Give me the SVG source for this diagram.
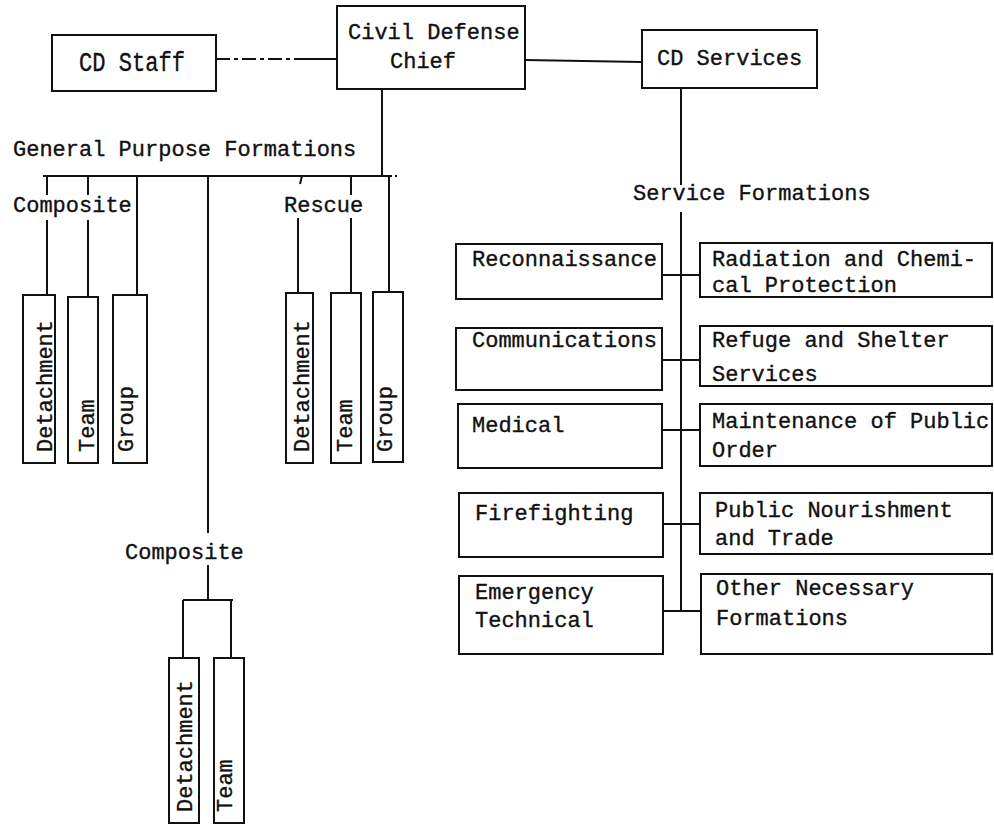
<svg xmlns="http://www.w3.org/2000/svg" width="994" height="826" viewBox="0 0 994 826">
<style>
.box{fill:none;stroke:#111;stroke-width:2}
.ln{fill:none;stroke:#111;stroke-width:2}
.t{font-family:"Liberation Mono","Courier New",monospace;font-size:22px;fill:#111;stroke:#111;stroke-width:0.35}
</style>
<rect width="994" height="826" fill="#fff"/>
<g id="connectors">
<path class="ln" d="M216,59 H300" stroke-dasharray="14,4,4,4"/>
<path class="ln" d="M300,59 H337"/>
<path class="ln" d="M525,60 L642,62"/>
<path class="ln" d="M681,88 V185"/>
<path class="ln" d="M382,89 V176"/>
<path class="ln" d="M43,176 H389"/>
<path class="ln" d="M389,176 H397" stroke-dasharray="3,3"/>
<path class="ln" d="M47,176 V195 M47,220 V295"/>
<path class="ln" d="M88,176 V195 M88,220 V297"/>
<path class="ln" d="M137,176 V295"/>
<path class="ln" d="M302,176 L300,184 M298,218 V293"/>
<path class="ln" d="M351,176 V195 M351,218 V293"/>
<path class="ln" d="M389,176 V292"/>
<path class="ln" d="M208,176 V533 M208,565 V600"/>
<path class="ln" d="M183,600 H233 M183,600 V658 M231,600 V658"/>
<path class="ln" d="M681,212 V611"/>
<path class="ln" d="M662,275 H700 M662,360 H700 M662,430 H700 M663,524 H700 M663,611 H701"/>
</g>
<g id="cd-staff"><rect class="box" x="52" y="35" width="164" height="56"/><text class="t" x="79" y="71" style="font-size:27px" textLength="106" lengthAdjust="spacingAndGlyphs">CD Staff</text></g>
<g id="civil-defense-chief"><rect class="box" x="337" y="6" width="188" height="83"/><text class="t" x="348" y="39">Civil Defense</text><text class="t" x="390" y="68">Chief</text></g>
<g id="cd-services"><rect class="box" x="642" y="30" width="175" height="58"/><text class="t" x="657" y="65">CD Services</text></g>
<g id="general-purpose"><text class="t" x="13" y="156">General Purpose Formations</text></g>
<g id="composite-label"><text class="t" x="13" y="212">Composite</text></g>
<g id="rescue-label"><text class="t" x="284" y="212">Rescue</text></g>
<g id="gp-detachment"><rect class="box" x="23" y="295" width="32" height="168"/><text class="t" transform="translate(52,452) rotate(-90)">Detachment</text></g>
<g id="gp-team"><rect class="box" x="68" y="297" width="30" height="166"/><text class="t" transform="translate(94,452) rotate(-90)">Team</text></g>
<g id="gp-group"><rect class="box" x="113" y="295" width="34" height="168"/><text class="t" transform="translate(133,452) rotate(-90)">Group</text></g>
<g id="rescue-detachment"><rect class="box" x="286" y="293" width="27" height="170"/><text class="t" transform="translate(309,452) rotate(-90)">Detachment</text></g>
<g id="rescue-team"><rect class="box" x="331" y="293" width="30" height="170"/><text class="t" transform="translate(352,452) rotate(-90)">Team</text></g>
<g id="rescue-group"><rect class="box" x="373" y="292" width="30" height="170"/><text class="t" transform="translate(392,452) rotate(-90)">Group</text></g>
<g id="composite2-label"><text class="t" x="125" y="559">Composite</text></g>
<g id="c2-detachment"><rect class="box" x="169" y="658" width="30" height="165"/><text class="t" transform="translate(192,812) rotate(-90)">Detachment</text></g>
<g id="c2-team"><rect class="box" x="214" y="658" width="30" height="165"/><text class="t" transform="translate(232,812) rotate(-90)">Team</text></g>
<g id="service-formations"><text class="t" x="633" y="200">Service Formations</text></g>
<g id="reconnaissance"><rect class="box" x="456" y="244" width="206" height="55"/><text class="t" x="472" y="266">Reconnaissance</text></g>
<g id="communications"><rect class="box" x="456" y="328" width="206" height="62"/><text class="t" x="472" y="347">Communications</text></g>
<g id="medical"><rect class="box" x="458" y="404" width="204" height="64"/><text class="t" x="472" y="432">Medical</text></g>
<g id="firefighting"><rect class="box" x="459" y="493" width="204" height="64"/><text class="t" x="475" y="520">Firefighting</text></g>
<g id="emergency"><rect class="box" x="459" y="576" width="204" height="78"/><text class="t" x="475" y="599">Emergency</text><text class="t" x="475" y="627">Technical</text></g>
<g id="radiation"><rect class="box" x="700" y="243" width="292" height="54"/><text class="t" x="712" y="266">Radiation and Chemi-</text><text class="t" x="712" y="292">cal Protection</text></g>
<g id="refuge"><rect class="box" x="700" y="326" width="292" height="60"/><text class="t" x="712" y="347">Refuge and Shelter</text><text class="t" x="712" y="381">Services</text></g>
<g id="maintenance"><rect class="box" x="700" y="404" width="292" height="62"/><text class="t" x="712" y="428">Maintenance of Public</text><text class="t" x="712" y="457">Order</text></g>
<g id="nourishment"><rect class="box" x="700" y="493" width="292" height="61"/><text class="t" x="715" y="517">Public Nourishment</text><text class="t" x="715" y="545">and Trade</text></g>
<g id="other"><rect class="box" x="701" y="574" width="291" height="80"/><text class="t" x="716" y="595">Other Necessary</text><text class="t" x="716" y="625">Formations</text></g>
</svg>
